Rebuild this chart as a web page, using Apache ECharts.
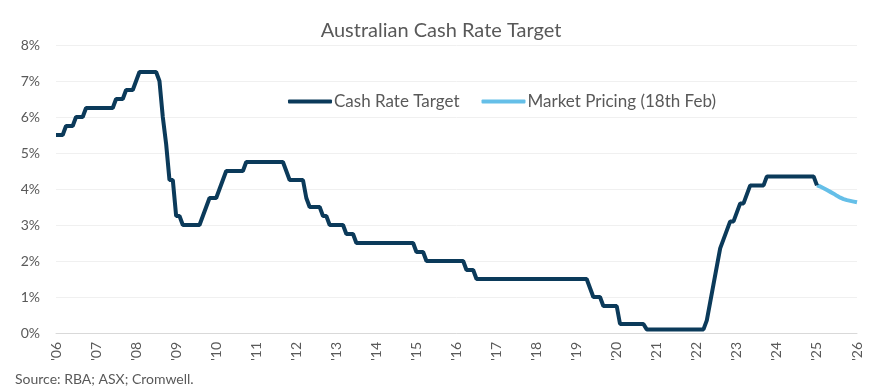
<!DOCTYPE html>
<html>
<head>
<meta charset="utf-8">
<script src="https://cdn.jsdelivr.net/npm/echarts@6/dist/echarts.min.js"></script>
<style>
html,body{margin:0;padding:0;background:#fff;}
#chart{width:882px;height:391px;}
</style>
</head>
<body>
<div id="chart"></div>
<script>
// Year tick labels (one per January)
var yearLabels = ["'06","'07","'08","'09","'10","'11","'12","'13","'14","'15","'16","'17","'18","'19","'20","'21","'22","'23","'24","'25","'26"];

// Cash Rate Target (%), monthly
var cashRate = [
  5.50,5.50,5.50,5.75,5.75,5.75,6.00,6.00,6.00,6.25,6.25,6.25, // 2006
  6.25,6.25,6.25,6.25,6.25,6.25,6.50,6.50,6.50,6.75,6.75,6.75, // 2007
  7.00,7.25,7.25,7.25,7.25,7.25,7.25,7.00,6.00,5.25,4.25,4.25, // 2008
  3.25,3.25,3.00,3.00,3.00,3.00,3.00,3.00,3.25,3.50,3.75,3.75, // 2009
  3.75,4.00,4.25,4.50,4.50,4.50,4.50,4.50,4.50,4.75,4.75,4.75, // 2010
  4.75,4.75,4.75,4.75,4.75,4.75,4.75,4.75,4.75,4.50,4.25,4.25, // 2011
  4.25,4.25,4.25,3.75,3.50,3.50,3.50,3.50,3.25,3.25,3.00,3.00, // 2012
  3.00,3.00,3.00,2.75,2.75,2.75,2.50,2.50,2.50,2.50,2.50,2.50, // 2013
  2.50,2.50,2.50,2.50,2.50,2.50,2.50,2.50,2.50,2.50,2.50,2.50, // 2014
  2.25,2.25,2.25,2.00,2.00,2.00,2.00,2.00,2.00,2.00,2.00,2.00, // 2015
  2.00,2.00,2.00,1.75,1.75,1.75,1.50,1.50,1.50,1.50,1.50,1.50, // 2016
  1.50,1.50,1.50,1.50,1.50,1.50,1.50,1.50,1.50,1.50,1.50,1.50, // 2017
  1.50,1.50,1.50,1.50,1.50,1.50,1.50,1.50,1.50,1.50,1.50,1.50, // 2018
  1.50,1.50,1.50,1.50,1.25,1.00,1.00,1.00,0.75,0.75,0.75,0.75, // 2019
  0.75,0.25,0.25,0.25,0.25,0.25,0.25,0.25,0.25,0.10,0.10,0.10, // 2020
  0.10,0.10,0.10,0.10,0.10,0.10,0.10,0.10,0.10,0.10,0.10,0.10, // 2021
  0.10,0.10,0.10,0.35,0.85,1.35,1.85,2.35,2.60,2.85,3.10,3.10, // 2022
  3.35,3.60,3.60,3.85,4.10,4.10,4.10,4.10,4.10,4.35,4.35,4.35, // 2023
  4.35,4.35,4.35,4.35,4.35,4.35,4.35,4.35,4.35,4.35,4.35,4.35, // 2024
  4.10                                                         // 2025
];

// Market Pricing (18th Feb), monthly from '25 to '26
var marketPricing = [4.10,4.07,4.02,3.97,3.92,3.87,3.81,3.76,3.72,3.69,3.67,3.65,3.63];

// Build monthly categories
var categories = [];
for (var y = 0; y < yearLabels.length; y++) {
  var months = (y === yearLabels.length - 1) ? 1 : 12;
  for (var m = 0; m < months; m++) categories.push(yearLabels[y] + '-' + (m + 1));
}
var marketSeries = [];
var startIdx = cashRate.length - 1;
for (var i = 0; i < categories.length; i++) {
  marketSeries.push(i >= startIdx ? marketPricing[i - startIdx] : null);
}

var FONT = 'Lato, "Open Sans", sans-serif';
var DARK = '#0b3a5a';
var LIGHT = '#65bfe8';
var chart = echarts.init(document.getElementById('chart'));
chart.setOption({
  animation: false,
  backgroundColor: '#ffffff',
  title: {
    text: 'Australian Cash Rate Target',
    left: 'center',
    top: 16,
    textStyle: {fontFamily: FONT, fontSize: 20, fontWeight: 'normal', color: '#595959'}
  },
  legend: {
    top: 88,
    left: 283,
    itemWidth: 44,
    itemHeight: 4,
    itemGap: 22,
    icon: 'roundRect',
    textStyle: {fontFamily: FONT, fontSize: 17, color: '#595959', padding: [0, 0, 0, -3]},
    data: [
      {name: 'Cash Rate Target', itemStyle: {color: DARK}},
      {name: 'Market Pricing (18th Feb)', itemStyle: {color: LIGHT}}
    ]
  },
  graphic: [{
    type: 'text',
    left: 15,
    top: 372,
    style: {text: 'Source: RBA; ASX; Cromwell.', font: '14px ' + FONT, fill: '#595959'}
  }],
  grid: {left: 56, right: 25, top: 45, bottom: 58},
  xAxis: {
    type: 'category',
    boundaryGap: false,
    data: categories,
    axisLine: {lineStyle: {color: '#d9d9d9', width: 1}},
    axisTick: {show: false},
    axisLabel: {
      interval: 11,
      rotate: 90,
      margin: 9,
      fontFamily: FONT,
      fontSize: 14,
      color: '#595959',
      formatter: function (v) { return v.split('-')[0]; }
    },
    splitLine: {show: false}
  },
  yAxis: {
    type: 'value',
    min: 0,
    max: 8,
    interval: 1,
    axisLine: {show: false},
    axisTick: {show: false},
    axisLabel: {fontFamily: FONT, fontSize: 14, color: '#595959', margin: 16, formatter: '{value}%'},
    splitLine: {lineStyle: {color: '#f0f0f0', width: 1}}
  },
  series: [
    {
      name: 'Cash Rate Target',
      type: 'line',
      data: cashRate,
      symbol: 'none',
      lineStyle: {color: DARK, width: 4},
      itemStyle: {color: DARK},
      z: 3
    },
    {
      name: 'Market Pricing (18th Feb)',
      type: 'line',
      data: marketSeries,
      symbol: 'none',
      lineStyle: {color: LIGHT, width: 4},
      itemStyle: {color: LIGHT},
      z: 2
    }
  ]
});
</script>
</body>
</html>
